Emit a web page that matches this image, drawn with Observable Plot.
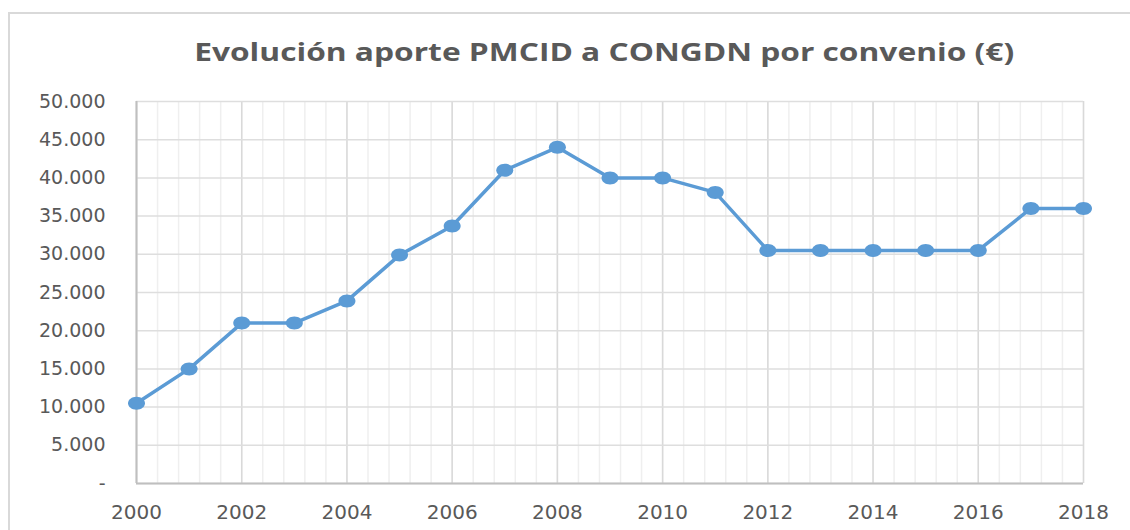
<!DOCTYPE html>
<html>
<head>
<meta charset="utf-8">
<script src="https://cdn.jsdelivr.net/npm/d3@7"></script>
<script src="https://cdn.jsdelivr.net/npm/@observablehq/plot@0.6"></script>
<style>
  html, body { margin: 0; padding: 0; background: #fff; }
  #wrap { position: relative; width: 1130px; height: 530px; overflow: hidden; background: #fff; }
  #frame { position: absolute; left: 8px; top: 12px; width: 1200px; height: 600px;
           border-top: 2px solid #d9d9d9; border-left: 2px solid #d9d9d9; pointer-events: none; }
  #title { height: 90px; box-sizing: border-box; padding-top: 39px; padding-left: 79px;
           text-align: center; font-family: "Open Sans", sans-serif; font-weight: 700;
           font-size: 25px; line-height: 25px; color: #595959; white-space: nowrap; }
  #title span { display: inline-block; transform-origin: 50% 50%; }
  #chart svg { display: block; }
</style>
</head>
<body>
<div id="wrap">
  <div id="title"><span id="titleText">Evolución aporte PMCID a CONGDN por convenio (€)</span></div>
  <div id="chart"></div>
  <div id="frame"></div>
</div>
<script>
// ---- data ----
const years = [2000, 2001, 2002, 2003, 2004, 2005, 2006, 2007, 2008, 2009,
               2010, 2011, 2012, 2013, 2014, 2015, 2016, 2017, 2018];
const aporte = [10500, 15000, 21000, 21000, 23900, 29900, 33700, 41000, 44000, 40000,
                40000, 38100, 30500, 30500, 30500, 30500, 30500, 36000, 36000];
const xTicks = [2000, 2002, 2004, 2006, 2008, 2010, 2012, 2014, 2016, 2018];
const yTickValues = [0, 5000, 10000, 15000, 20000, 25000, 30000, 35000, 40000, 45000, 50000];
const yTickLabels = ["-", "5.000", "10.000", "15.000", "20.000", "25.000", "30.000", "35.000", "40.000", "45.000", "50.000"];
const titleText = "Evolución aporte PMCID a CONGDN por convenio (€)";

// fit title width to reference (horizontally stretched glyphs)
const tEl = document.getElementById("titleText");
tEl.textContent = titleText;
const targetW = 820;
const w0 = tEl.getBoundingClientRect().width;
tEl.style.transform = "scaleX(" + (targetW / w0) + ")";

const data = years.map((y, i) => ({year: y, value: aporte[i]}));

// minor vertical gridlines (5 per 2-year major interval)
const minorX = d3.range(0, 46).map(i => 2000 + i * 0.4);

// ellipse marker symbol
const ellipse = {
  draw(ctx) {
    const rx = 8.5, ry = 6.5, k = 0.5523;
    ctx.moveTo(rx, 0);
    ctx.bezierCurveTo(rx, k * ry, k * rx, ry, 0, ry);
    ctx.bezierCurveTo(-k * rx, ry, -rx, k * ry, -rx, 0);
    ctx.bezierCurveTo(-rx, -k * ry, -k * rx, -ry, 0, -ry);
    ctx.bezierCurveTo(k * rx, -ry, rx, -k * ry, rx, 0);
    ctx.closePath();
  }
};

const chart = Plot.plot({
  width: 1130,
  height: 440,
  marginLeft: 136,
  marginRight: 47,
  marginTop: 11,
  marginBottom: 47,
  style: {fontFamily: "DejaVu Sans, sans-serif", color: "#595959", background: "transparent", overflow: "visible"},
  x: {domain: [2000, 2018]},
  y: {domain: [0, 50000]},
  marks: [
    Plot.ruleX(minorX, {stroke: "#efefef", strokeWidth: 1.5}),
    Plot.ruleX(xTicks, {stroke: "#d9d9d9", strokeWidth: 1.5}),
    Plot.ruleY(yTickValues, {stroke: "#dedede", strokeWidth: 1.5}),
    Plot.ruleX([2000], {stroke: "#bfbfbf", strokeWidth: 2}),
    Plot.ruleY([0], {stroke: "#bfbfbf", strokeWidth: 2}),
    Plot.line(data, {x: "year", y: "value", stroke: "#5b9bd5", strokeWidth: 3.5, strokeLinejoin: "round"}),
    Plot.dot(data, {x: "year", y: "value", symbol: ellipse, fill: "#5b9bd5", stroke: "none"}),
    Plot.axisX({ticks: xTicks, tickFormat: d => String(d), tickSize: 0, tickPadding: 21, fontSize: 20, label: null}),
    Plot.axisY({ticks: yTickValues, tickFormat: d => yTickLabels[yTickValues.indexOf(d)], tickSize: 0, tickPadding: 31, fontSize: 19, label: null})
  ]
});
document.getElementById("chart").appendChild(chart);
</script>
</body>
</html>
